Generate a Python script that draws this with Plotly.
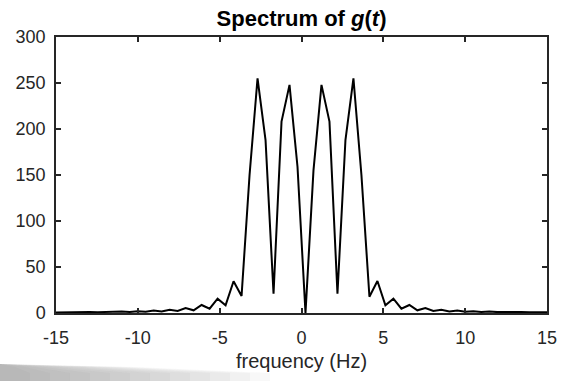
import numpy as np
import plotly.graph_objects as go

# Frequency grid: bins spaced df apart, centred on the DC bin at f0
df_hz = 0.48828
f0 = 0.244
bin_index = np.arange(-32, 32)
frequency = f0 + df_hz * bin_index

# Magnitude for bins -32 .. -1
mag_left = [0.6, 0.8, 0.7, 0.9, 0.8, 1.1, 0.9, 1.3, 1.0, 1.6, 1.2, 2.0, 1.4, 2.6,
            1.7, 3.6, 2.2, 5.4, 2.9, 8.7, 4.7, 15.5, 8.4, 34.5, 18.5, 150, 255,
            188, 21, 208, 248, 159]
# Magnitude for bins 0 .. 31
mag_right = [0, 155, 248, 208, 21, 188, 255, 150, 17.7, 34.8, 8.4, 15.6, 4.7, 8.7,
             2.9, 5.4, 2.2, 3.4, 1.7, 2.6, 1.4, 2.0, 1.2, 1.6, 1.0, 1.3, 0.9, 1.1,
             0.8, 0.9, 0.7, 0.8]
magnitude = mag_left + mag_right

x_ticks = [-15, -10, -5, 0, 5, 10, 15]
y_ticks = [0, 50, 100, 150, 200, 250, 300]

FONT = "Liberation Sans, Arial, sans-serif"
AX = "#262626"
W, H = 564, 381
ML, MR, MT, MB = 56, 17, 37, 68

fig = go.Figure()
fig.add_trace(go.Scatter(x=frequency, y=magnitude, mode="lines",
                         line=dict(color="black", width=2), showlegend=False))

axis_common = dict(showline=True, linecolor=AX, linewidth=1.5, mirror="ticks",
                   ticks="inside", ticklen=5, tickwidth=1.5, tickcolor=AX,
                   showgrid=False, zeroline=False, automargin=False,
                   tickfont=dict(family=FONT, size=18, color=AX))


# decorative page shadow at the lower-left corner (pixel -> paper coords)
def px2paper(px, py):
    return (px - ML) / (W - ML - MR), (H - MB - py) / (H - MT - MB)


shapes = []
for length in range(270, 10, -20):
    pts = [px2paper(0, 364), px2paper(length * 0.5, 367), px2paper(length, 373),
           px2paper(length, 381), px2paper(0, 381)]
    path = "M " + " L ".join(f"{x:.4f},{y:.4f}" for x, y in pts) + " Z"
    shapes.append(dict(type="path", xref="paper", yref="paper", path=path,
                       fillcolor="rgba(110,110,110,0.05)", line=dict(width=0),
                       layer="below"))

fig.update_layout(
    width=W, height=H,
    margin=dict(l=ML, r=MR, t=MT, b=MB),
    paper_bgcolor="white", plot_bgcolor="white",
    shapes=shapes,
    title=dict(text="<b>Spectrum of <i>g</i>(<i>t</i>)</b>",
               x=0.5, xref="paper", xanchor="center",
               y=1 - 18 / 381, yref="container", yanchor="middle",
               font=dict(family=FONT, size=22, color="black")),
    xaxis=dict(range=[-15, 15], tickvals=x_ticks, ticktext=[str(v) for v in x_ticks],
               ticklabelstandoff=8,
               title=dict(text="frequency (Hz)", font=dict(family=FONT, size=20, color=AX),
                          standoff=7),
               **axis_common),
    yaxis=dict(range=[0, 300], tickvals=y_ticks, ticktext=[str(v) for v in y_ticks],
               ticklabelstandoff=5,
               **axis_common),
)

fig.write_html("out.html", config={"displayModeBar": False},
               post_script="document.body.style.margin='0';document.body.style.padding='0';")
